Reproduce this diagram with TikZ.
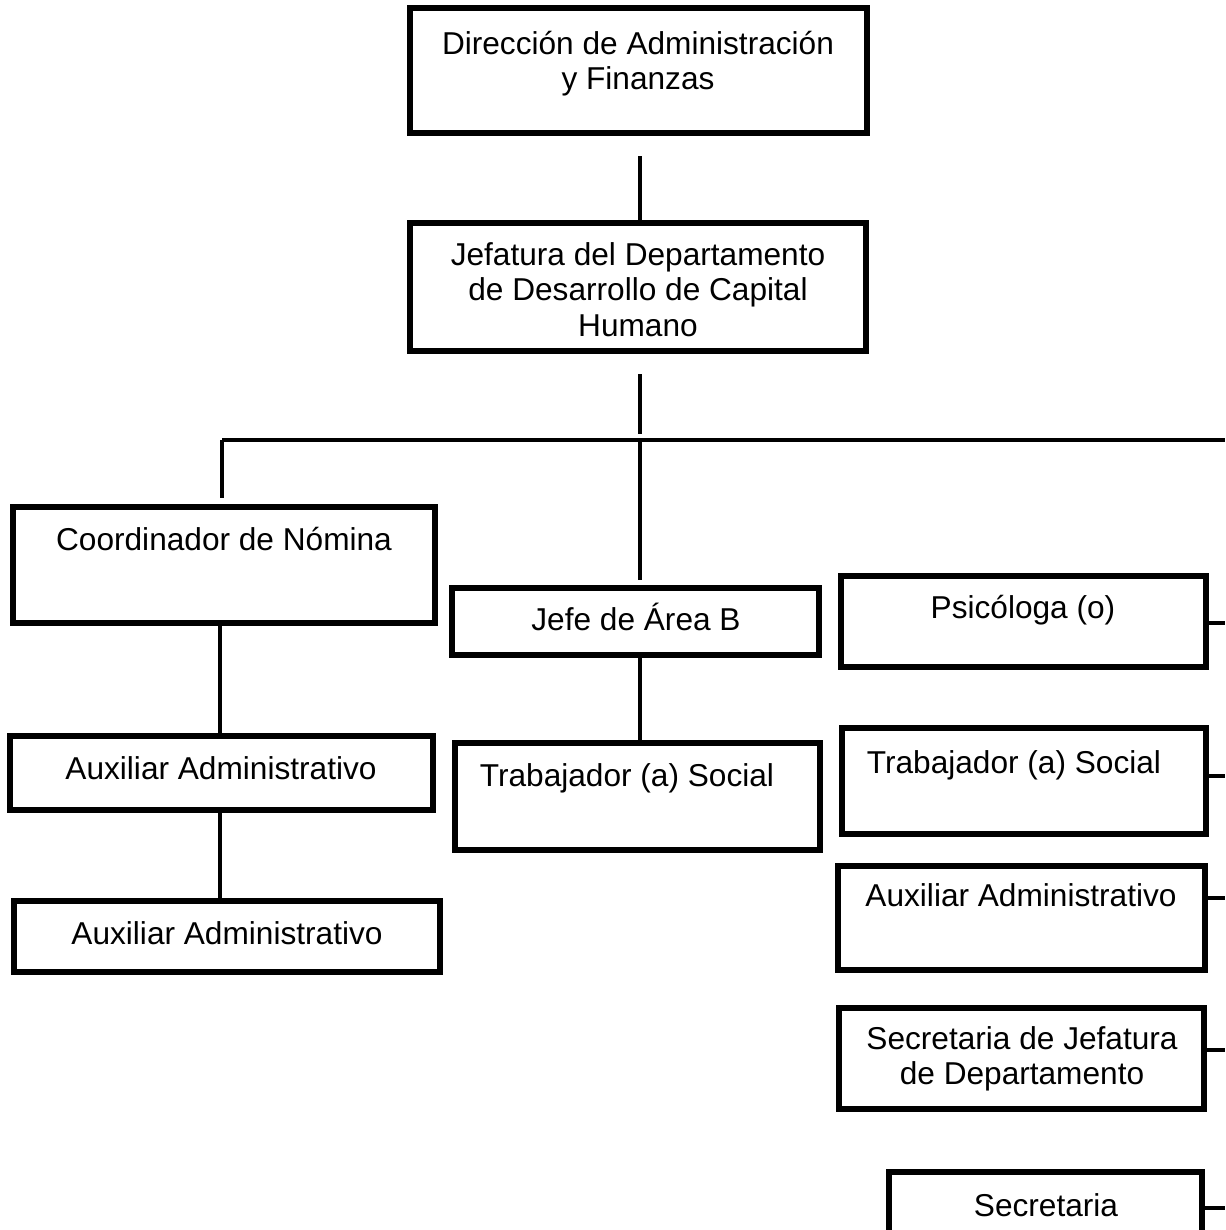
\documentclass[tikz,border=0pt]{standalone}
\usepackage{fontspec}
\setmainfont{Liberation Sans}
\usetikzlibrary{fit}
\tikzset{
  orgbox/.style={draw, line width=2.9pt, inner sep=0pt},
  orgtext/.style={inner sep=0pt, align=center, anchor=north, text height=12.9pt,
    font=\fontsize{18}{20.4}\selectfont},
  twolines/.style={text height=33.3pt},
  threelines/.style={text height=53.7pt},
  conn/.style={line width=2.5pt}
}
\newcommand\obox[9][]{%
  \path (#3,#4) coordinate (#2-a) (#5,#6) coordinate (#2-b);
  \node[orgbox, fit=(#2-a)(#2-b)] (#2) {};
  \node[orgtext,#1] (#2-t) at (#7,#8) {#9};
}
\begin{document}
\begin{tikzpicture}[x=0.02cm, y=-0.02cm]
\useasboundingbox (0,0) rectangle (1225,1230);
\clip (0,0) rectangle (1225,1230);
\fill[white] (0,0) rectangle (1225,1230);

\obox[twolines]{dir}{410}{8}{867}{133}{638}{31}{Dirección de Administración\\y Finanzas}
\obox[threelines]{jef}{410}{223}{866}{351}{638}{242}{Jefatura del Departamento\\de Desarrollo de Capital\\Humano}
\obox{coord}{13}{507}{435}{623}{224}{527}{Coordinador de Nómina}
\obox{jefeb}{452}{588}{819}{655}{636}{607}{Jefe de Área B}
\obox{psi}{841}{576}{1206}{667}{1023}{595}{Psicóloga (o)}
\obox{auxa}{10}{736}{433}{810}{221}{756}{Auxiliar Administrativo}
\obox{auxb}{14}{901}{440}{972}{227}{921}{Auxiliar Administrativo}
\obox{trabm}{455}{743}{820}{850}{627}{763}{Trabajador (a) Social}
\obox{trabr}{842}{728}{1206}{834}{1014}{750}{Trabajador (a) Social}
\obox{auxr}{838}{866}{1205}{970}{1021}{883}{Auxiliar Administrativo}
\obox[twolines]{secj}{839}{1008}{1204}{1109}{1022}{1026}{Secretaria de Jefatura\\de Departamento}
\obox{sec}{889}{1172}{1202}{1270}{1046}{1193}{Secretaria}

% connectors
\coordinate (c1) at (640,156);
\coordinate (c2) at (640,374);
\coordinate (c3) at (640,434);
\coordinate (hubL) at (222,440);
\coordinate (hubM) at (640,440);
\coordinate (hubR) at (1225,440);
\coordinate (dropL) at (222,498);
\coordinate (dropM) at (640,580);

\draw[conn] (c1) -- (c1 |- jef.north);
\draw[conn] (c2) -- (c3);
\draw[conn] (hubL) -- (hubR);
\draw[conn] (hubL) -- (dropL);
\draw[conn] (hubM) -- (dropM);

\draw[conn] (coord.south -| 220,0) -- (auxa.north -| 220,0);
\draw[conn] (auxa.south -| 220,0) -- (auxb.north -| 220,0);
\draw[conn] (jefeb.south -| 640,0) -- (trabm.north -| 640,0);

\coordinate (r1) at (1225,623);
\coordinate (r2) at (1225,776);
\coordinate (r3) at (1225,898);
\coordinate (r4) at (1225,1050);
\coordinate (r5) at (1225,1208);
\draw[conn] (r1 -| psi.east) -- (r1);
\draw[conn] (r2 -| trabr.east) -- (r2);
\draw[conn] (r3 -| auxr.east) -- (r3);
\draw[conn] (r4 -| secj.east) -- (r4);
\draw[conn] (r5 -| sec.east) -- (r5);
\end{tikzpicture}
\end{document}
